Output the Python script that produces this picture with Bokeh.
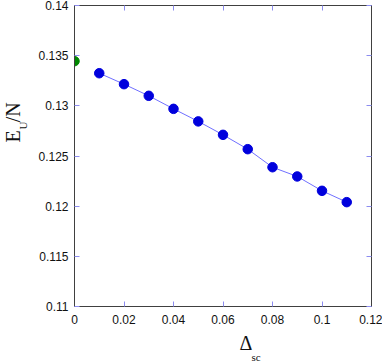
from bokeh.plotting import figure
from bokeh.models import LinearAxis, FixedTicker, Title, Range1d, ColumnDataSource
from bokeh.embed import file_html
from bokeh.resources import INLINE

# ---- data ----
delta_sc = [0.01, 0.02, 0.03, 0.04, 0.05, 0.06, 0.07, 0.08, 0.09, 0.10, 0.11]
energy = [0.13325, 0.13216, 0.13100, 0.12970, 0.12845, 0.12711, 0.12568, 0.12388, 0.12296, 0.12153, 0.12040]
delta_ref = [0.0]
energy_ref = [0.13445]

x_ticks = [0.0, 0.02, 0.04, 0.06, 0.08, 0.10, 0.12]
x_tick_labels = ["0", "0.02", "0.04", "0.06", "0.08", "0.1", "0.12"]
y_ticks = [0.11, 0.115, 0.12, 0.125, 0.13, 0.135, 0.14]
y_tick_labels = ["0.11", "0.115", "0.12", "0.125", "0.13", "0.135", "0.14"]

TICK_COLOR = "#8c8cf0"
AXIS_COLOR = "#404040"
LABEL_FONT = "Liberation Sans"
SERIF = "Liberation Serif"

p = figure(width=382, height=363, output_backend="svg", toolbar_location=None,
           x_range=Range1d(0, 0.12), y_range=Range1d(0.11, 0.14),
           min_border_left=74, min_border_right=11, min_border_top=5, min_border_bottom=57,
           x_axis_location=None, y_axis_location=None)
p.margin = 0
p.xgrid.visible = False
p.ygrid.visible = False
p.outline_line_color = AXIS_COLOR
p.background_fill_color = "white"
p.border_fill_color = "white"

def style_axis(ax, ticks, labels, show_labels):
    ax.ticker = FixedTicker(ticks=ticks)
    ax.major_label_overrides = {t: l for t, l in zip(ticks, labels)}
    ax.major_tick_in = 5
    ax.major_tick_out = 0
    ax.major_tick_line_color = TICK_COLOR
    ax.minor_tick_line_color = None
    ax.axis_line_color = AXIS_COLOR
    ax.major_label_text_font = LABEL_FONT
    ax.major_label_text_font_size = "12px"
    ax.major_label_text_color = "#111111"
    if not show_labels:
        ax.major_label_text_font_size = "0px"
        ax.major_label_text_color = None
        ax.major_label_standoff = 0

xb = LinearAxis(); style_axis(xb, x_ticks, x_tick_labels, True); xb.major_label_standoff = 8
xt = LinearAxis(); style_axis(xt, x_ticks, x_tick_labels, False)
yl = LinearAxis(); style_axis(yl, y_ticks, y_tick_labels, True); yl.major_label_standoff = 6
yr = LinearAxis(); style_axis(yr, y_ticks, y_tick_labels, False)
p.add_layout(xb, "below")
p.add_layout(xt, "above")
p.add_layout(yl, "left")
p.add_layout(yr, "right")

src = ColumnDataSource(dict(x=delta_sc, y=energy))
p.line("x", "y", source=src, line_color="#7070ff", line_width=1)
p.scatter("x", "y", source=src, size=9.5, fill_color="#0000dd", line_color="#0000dd")
p.scatter(delta_ref, energy_ref, size=9.5, fill_color="#008800", line_color="#008800")

# axis titles built from Title annotations in the side panels (with subscripts)
def title(text, side, size, offset, standoff, valign):
    p.add_layout(Title(text=text, align="left", offset=offset, standoff=standoff,
                       vertical_align=valign,
                       text_font=SERIF, text_font_size=size, text_font_style="normal",
                       text_color="#111111"), side)

title("\u0394", "below", "20px", 165, 7, "bottom")
title("sc", "below", "11px", 177, -13, "top")
title("U", "left", "11px", 177, 10, "top")
title("E\u2009\u2009/N", "left", "20px", 164, -24, "bottom")

open("out.html", "w").write(file_html(p, INLINE))
